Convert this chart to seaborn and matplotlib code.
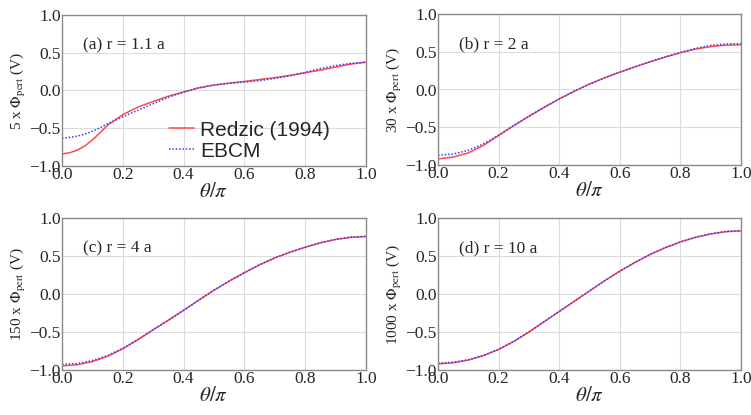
import numpy as np
import pandas as pd
import matplotlib
matplotlib.use("Agg")
import matplotlib.pyplot as plt
import seaborn as sns

# ---- data ----
theta_a = [0.0, 0.025, 0.05, 0.075, 0.1, 0.125, 0.15, 0.2, 0.25, 0.3, 0.35, 0.4, 0.45, 0.5, 0.55, 0.6, 0.65, 0.7, 0.75, 0.8, 0.85, 0.9, 0.95, 1.0]
redzic_a = [-0.84, -0.825, -0.79, -0.735, -0.655, -0.56, -0.46, -0.32, -0.22, -0.145, -0.075, -0.02, 0.035, 0.072, 0.098, 0.12, 0.145, 0.17, 0.20, 0.235, 0.27, 0.31, 0.35, 0.375]
ebcm_a = [-0.63, -0.622, -0.605, -0.578, -0.54, -0.495, -0.44, -0.35, -0.26, -0.175, -0.09, -0.02, 0.035, 0.072, 0.095, 0.11, 0.13, 0.16, 0.195, 0.24, 0.29, 0.33, 0.36, 0.375]

theta_b = [0.0, 0.05, 0.1, 0.15, 0.2, 0.25, 0.3, 0.35, 0.4, 0.45, 0.5, 0.55, 0.6, 0.65, 0.7, 0.75, 0.8, 0.85, 0.9, 0.95, 1.0]
redzic_b = [-0.92, -0.895, -0.84, -0.74, -0.61, -0.478, -0.355, -0.237, -0.125, -0.022, 0.072, 0.155, 0.23, 0.30, 0.367, 0.43, 0.487, 0.535, 0.568, 0.587, 0.593]
ebcm_b = [-0.87, -0.855, -0.805, -0.72, -0.605, -0.478, -0.355, -0.237, -0.125, -0.022, 0.072, 0.155, 0.23, 0.30, 0.367, 0.43, 0.49, 0.545, 0.585, 0.603, 0.61]

theta_c = [0.0, 0.05, 0.1, 0.15, 0.2, 0.25, 0.3, 0.35, 0.4, 0.45, 0.5, 0.55, 0.6, 0.65, 0.7, 0.75, 0.8, 0.85, 0.9, 0.95, 1.0]
redzic_c = [-0.947, -0.93, -0.89, -0.82, -0.72, -0.60, -0.47, -0.345, -0.215, -0.08, 0.05, 0.17, 0.28, 0.385, 0.475, 0.55, 0.615, 0.673, 0.717, 0.745, 0.755]
ebcm_c = [-0.925, -0.915, -0.875, -0.81, -0.715, -0.60, -0.47, -0.345, -0.215, -0.08, 0.05, 0.17, 0.28, 0.385, 0.475, 0.55, 0.615, 0.675, 0.72, 0.75, 0.76]

theta_d = [0.0, 0.05, 0.1, 0.15, 0.2, 0.25, 0.3, 0.35, 0.4, 0.45, 0.5, 0.55, 0.6, 0.65, 0.7, 0.75, 0.8, 0.85, 0.9, 0.95, 1.0]
redzic_d = [-0.92, -0.905, -0.87, -0.81, -0.73, -0.625, -0.50, -0.365, -0.23, -0.095, 0.04, 0.175, 0.30, 0.415, 0.52, 0.61, 0.685, 0.745, 0.79, 0.82, 0.83]
ebcm_d = [-0.91, -0.898, -0.865, -0.807, -0.728, -0.623, -0.50, -0.365, -0.23, -0.095, 0.04, 0.175, 0.30, 0.415, 0.52, 0.61, 0.685, 0.747, 0.792, 0.824, 0.835]

panel_labels = ["(a) r = 1.1 a", "(b) r = 2 a", "(c) r = 4 a", "(d) r = 10 a"]
y_labels = [r"5 x $\Phi_{\rm pert}$ (V)", r"30 x $\Phi_{\rm pert}$ (V)",
            r"150 x $\Phi_{\rm pert}$ (V)", r"1000 x $\Phi_{\rm pert}$ (V)"]
series_names = ["Redzic (1994)", "EBCM"]
ticks = [0.0, 0.2, 0.4, 0.6, 0.8, 1.0]
yticks = [-1.0, -0.5, 0.0, 0.5, 1.0]

panels = [(theta_a, redzic_a, ebcm_a), (theta_b, redzic_b, ebcm_b),
          (theta_c, redzic_c, ebcm_c), (theta_d, redzic_d, ebcm_d)]

sns.set_style("white")
plt.rcParams["font.family"] = ["Liberation Serif", "DejaVu Serif"]
plt.rcParams["mathtext.fontset"] = "stix"

fig = plt.figure(figsize=(7.51, 4.15), dpi=100)
rects = [[62/751, 249/415, 304/751, 151/415],
         [438/751, 250/415, 303/751, 151/415],
         [62/751, 45/415, 304/751, 152/415],
         [438/751, 45/415, 303/751, 152/415]]

for i, ((th, r, e), rect) in enumerate(zip(panels, rects)):
    ax = fig.add_axes(rect)
    df_r = pd.DataFrame({"theta": th, "val": r})
    df_e = pd.DataFrame({"theta": th, "val": e})
    sns.lineplot(data=df_r, x="theta", y="val", ax=ax,
                 color="#ff4a4a", linewidth=1.1, label=series_names[0], legend=False)
    sns.lineplot(data=df_e, x="theta", y="val", ax=ax,
                 color="#3b3bff", linewidth=1.1, linestyle=(0, (1, 1.2)),
                 label=series_names[1], legend=False)
    ax.set_xlim(0, 1)
    ax.set_ylim(-1, 1)
    ax.set_xticks(ticks)
    ax.set_yticks(yticks)
    ax.set_xticklabels([f"{t:.1f}" for t in ticks])
    ax.set_yticklabels([f"{t:.1f}".replace("-", "\u2212") for t in yticks])
    ax.tick_params(axis="both", length=0, pad=1, labelsize=12.5)
    ax.grid(True, color="#dcdcdc", linewidth=0.8)
    for s in ax.spines.values():
        s.set_color("#8a8a8a")
        s.set_linewidth(1.0)
    ax.set_xlabel(r"$\theta/\pi$", fontsize=15, labelpad=0)
    ax.set_ylabel(y_labels[i], fontsize=11, labelpad=1)
    ax.text(0.07, 0.8, panel_labels[i], transform=ax.transAxes, fontsize=12.5,
            va="center", ha="left")
    if i == 0:
        ax.legend(loc="upper left", bbox_to_anchor=(0.345, 0.315), frameon=False,
                  prop={"family": "Liberation Sans", "size": 15},
                  handlelength=1.2, handletextpad=0.3, labelspacing=0.1,
                  borderpad=0.1, borderaxespad=0)

fig.savefig("out.png", dpi=100)
